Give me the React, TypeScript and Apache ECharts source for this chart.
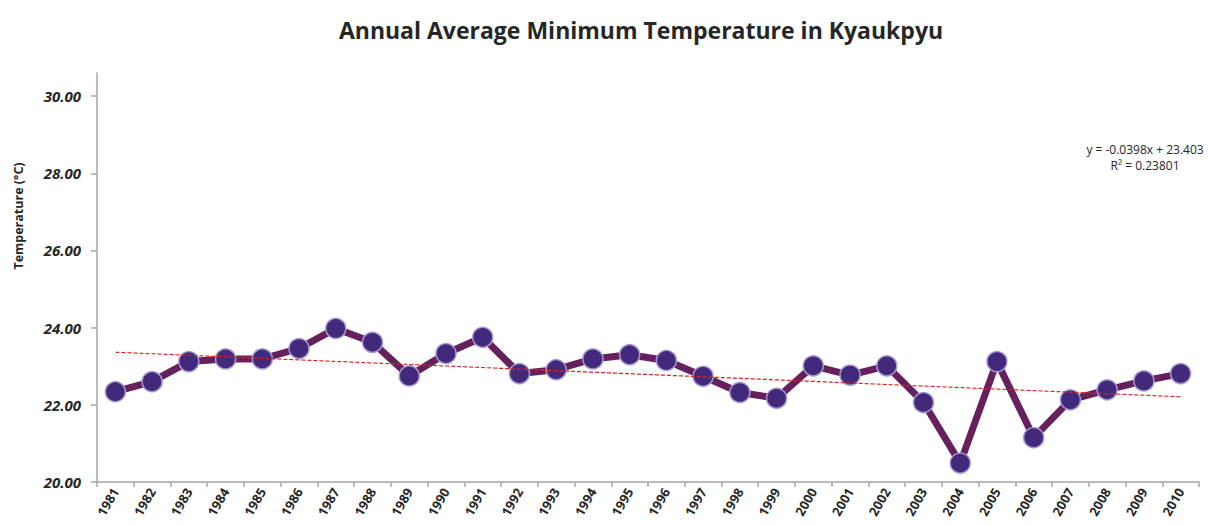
import React, { useEffect, useRef } from "react";
import * as echarts from "echarts";

const years = [
  "1981", "1982", "1983", "1984", "1985", "1986", "1987", "1988", "1989", "1990",
  "1991", "1992", "1993", "1994", "1995", "1996", "1997", "1998", "1999", "2000",
  "2001", "2002", "2003", "2004", "2005", "2006", "2007", "2008", "2009", "2010",
];

const minTemp = [
  22.34, 22.6, 23.12, 23.19, 23.19, 23.46, 23.98, 23.62, 22.75, 23.33,
  23.75, 22.81, 22.91, 23.19, 23.3, 23.15, 22.74, 22.32, 22.17, 23.01,
  22.77, 23.01, 22.06, 20.49, 23.12, 21.15, 22.13, 22.39, 22.62, 22.81,
];

// trendline end values (from y = -0.0398x + 23.403 at x = 1 and x = 30)
const trendEnds = [23.363, 22.209];
const equationLines = ["y = -0.0398x + 23.403", "R² = 0.23801"];
const yTicks = [20, 22, 24, 26, 28, 30];

export default function App() {
  const ref = useRef<HTMLDivElement>(null);
  useEffect(() => {
    if (!ref.current) return;
    const chart = echarts.init(ref.current, undefined, { renderer: "svg" });
    chart.setOption({
      animation: false,
      backgroundColor: "#ffffff",
      title: {
        text: "Annual Average Minimum Temperature in Kyaukpyu",
        left: 636,
        top: 13,
        textAlign: "center",
        textStyle: {
          fontFamily: "Open Sans",
          fontWeight: "bold",
          fontSize: 23,
          color: "#262626",
        },
      },
      grid: { left: 97, right: 9, top: 73, bottom: 43 },
      xAxis: {
        type: "category",
        data: years,
        boundaryGap: true,
        axisLine: { lineStyle: { color: "#a6a6a6", width: 1.5 } },
        axisTick: { show: true, length: 5, alignWithLabel: false, lineStyle: { color: "#a6a6a6", width: 1.5 } },
        axisLabel: {
          rotate: 60,
          fontFamily: "Open Sans",
          fontWeight: "bold",
          fontSize: 13,
          color: "#262626",
          margin: 7,
          interval: 0,
        },
      },
      yAxis: {
        type: "value",
        min: yTicks[0],
        max: 30.6,
        interval: 2,
        splitLine: { show: false },
        axisLine: { show: true, lineStyle: { color: "#a6a6a6", width: 1.5 } },
        axisTick: { show: true, length: 6, lineStyle: { color: "#a6a6a6", width: 1.5 } },
        axisLabel: {
          showMaxLabel: false,
          formatter: (v: number) => (yTicks.includes(v) ? v.toFixed(2) : ""),
          fontFamily: "Open Sans",
          fontWeight: "bold",
          fontStyle: "italic",
          fontSize: 15,
          color: "#262626",
          margin: 16,
        },
      },
      graphic: [
        {
          type: "text",
          x: 18,
          y: 216,
          rotation: Math.PI / 2,
          style: {
            text: "Temperature (°C)",
            fontFamily: "Open Sans",
            fontWeight: "bold",
            fontSize: 12.5,
            fill: "#262626",
            align: "center",
            verticalAlign: "middle",
          },
        },
        {
          type: "text",
          x: 1145,
          y: 141,
          style: {
            text: equationLines.join("\n"),
            fontFamily: "Open Sans",
            fontSize: 12,
            lineHeight: 16,
            fill: "#262626",
            align: "center",
          },
        },
      ],
      series: [
        {
          type: "line",
          data: minTemp,
          z: 3,
          symbol: "circle",
          symbolSize: 20,
          lineStyle: { color: "#66205e", width: 7 },
          itemStyle: {
            color: "#43297b",
            borderColor: "#a79ad0",
            borderWidth: 1.5,
          },
          markLine: {
            silent: true,
            symbol: "none",
            z: 4,
            label: { show: false },
            lineStyle: { color: "#e0201b", type: [4, 2], width: 1.2 },
            data: [
              [
                { coord: [years[0], trendEnds[0]] },
                { coord: [years[years.length - 1], trendEnds[1]] },
              ],
            ],
          },
        },
      ],
    });
    return () => chart.dispose();
  }, []);
  return (
    <div
      ref={ref}
      style={{ position: "fixed", left: 0, top: 0, width: 1208, height: 525 }}
    />
  );
}
